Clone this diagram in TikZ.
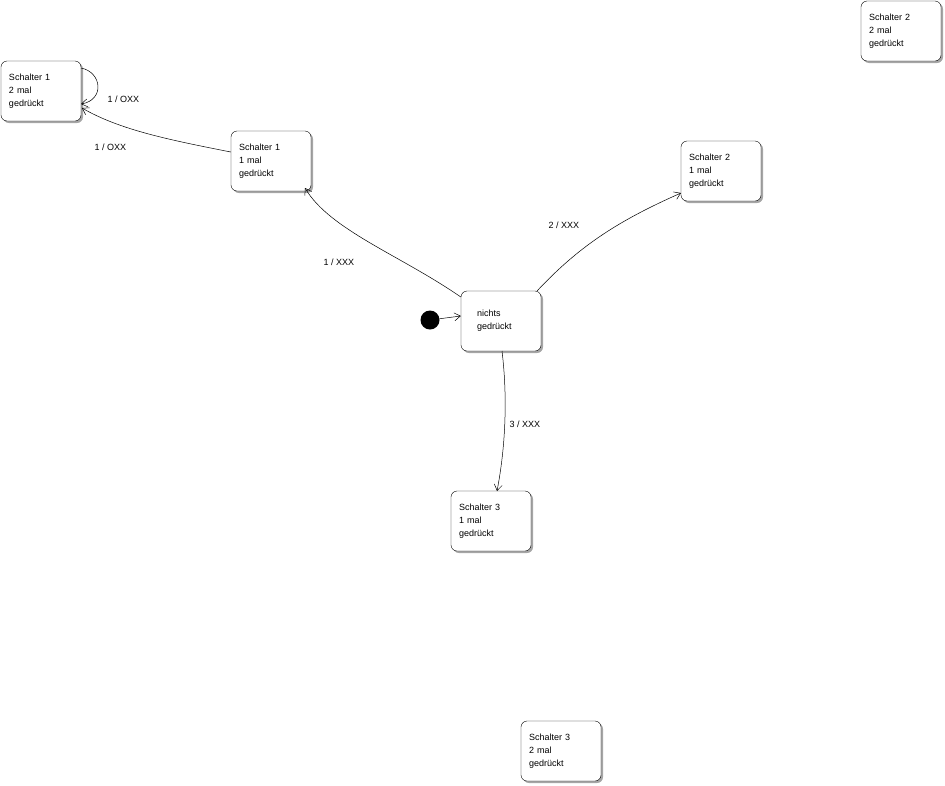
\documentclass[tikz,border=0pt]{standalone}
\usepackage{fontspec}
\setmainfont{Liberation Sans}
\usetikzlibrary{arrows.meta}
\begin{document}
\begin{tikzpicture}[x=1pt,y=-1pt,
  st/.style={draw,rounded corners=6pt,minimum width=80pt,minimum height=60pt,fill=white,
    align=left,font=\fontsize{9}{13}\selectfont,inner sep=0pt,text width=64pt,
    drop shadow/.style={}},
  sh/.style={fill=black!35,rounded corners=6pt},
  tr/.style={-{Straight Barb[length=6pt,width=8pt]},line width=0.5pt},
  lb/.style={font=\fontsize{9}{11}\selectfont}]
\useasboundingbox (0,0) rectangle (945,785);
\foreach \x/\y in {41/91,271/161,721/171,901/31,501/321,491/521,561/751}
  \fill[sh] (\x-38,\y-28) rectangle (\x+42,\y+32);
\node[st] (s12) at (41,91) {Schalter 1\\2 mal\\gedrückt};
\node[st] (s11) at (271,161) {Schalter 1\\1 mal\\gedrückt};
\node[st] (s21) at (721,171) {Schalter 2\\1 mal\\gedrückt};
\node[st] (s22) at (901,31) {Schalter 2\\2 mal\\gedrückt};
\node[st,text width=48pt] (n) at (501,321) {nichts\\gedrückt};
\node[st] (s31) at (491,521) {Schalter 3\\1 mal\\gedrückt};
\node[st] (s32) at (561,751) {Schalter 3\\2 mal\\gedrückt};
\fill (430,320) circle (9.5) coordinate (init);
\node[inner sep=0pt,minimum size=19pt] (i) at (430,320) {};
\draw[tr] (i) -- (n.west |- 0,316);
\draw[tr] (n.west |- 0,297) .. controls (400,255) and (330,230) .. (305,188);
\draw[tr] (s11.west |- 0,152) .. controls (170,140) and (120,130) .. (82,108);
\draw[tr] (81,68) .. controls (102,72) and (105,100) .. (81,104);
\draw[tr] (537,291) .. controls (580,245) and (620,220) .. (681,193);
\draw[tr] (502,351) .. controls (508,400) and (505,450) .. (497,491);
\node[lb,anchor=west] at (320,262) {1 / XXX};
\node[lb,anchor=west] at (91,147) {1 / OXX};
\node[lb,anchor=west] at (104,99) {1 / OXX};
\node[lb,anchor=west] at (545,225) {2 / XXX};
\node[lb,anchor=west] at (506,424) {3 / XXX};
\end{tikzpicture}
\end{document}
